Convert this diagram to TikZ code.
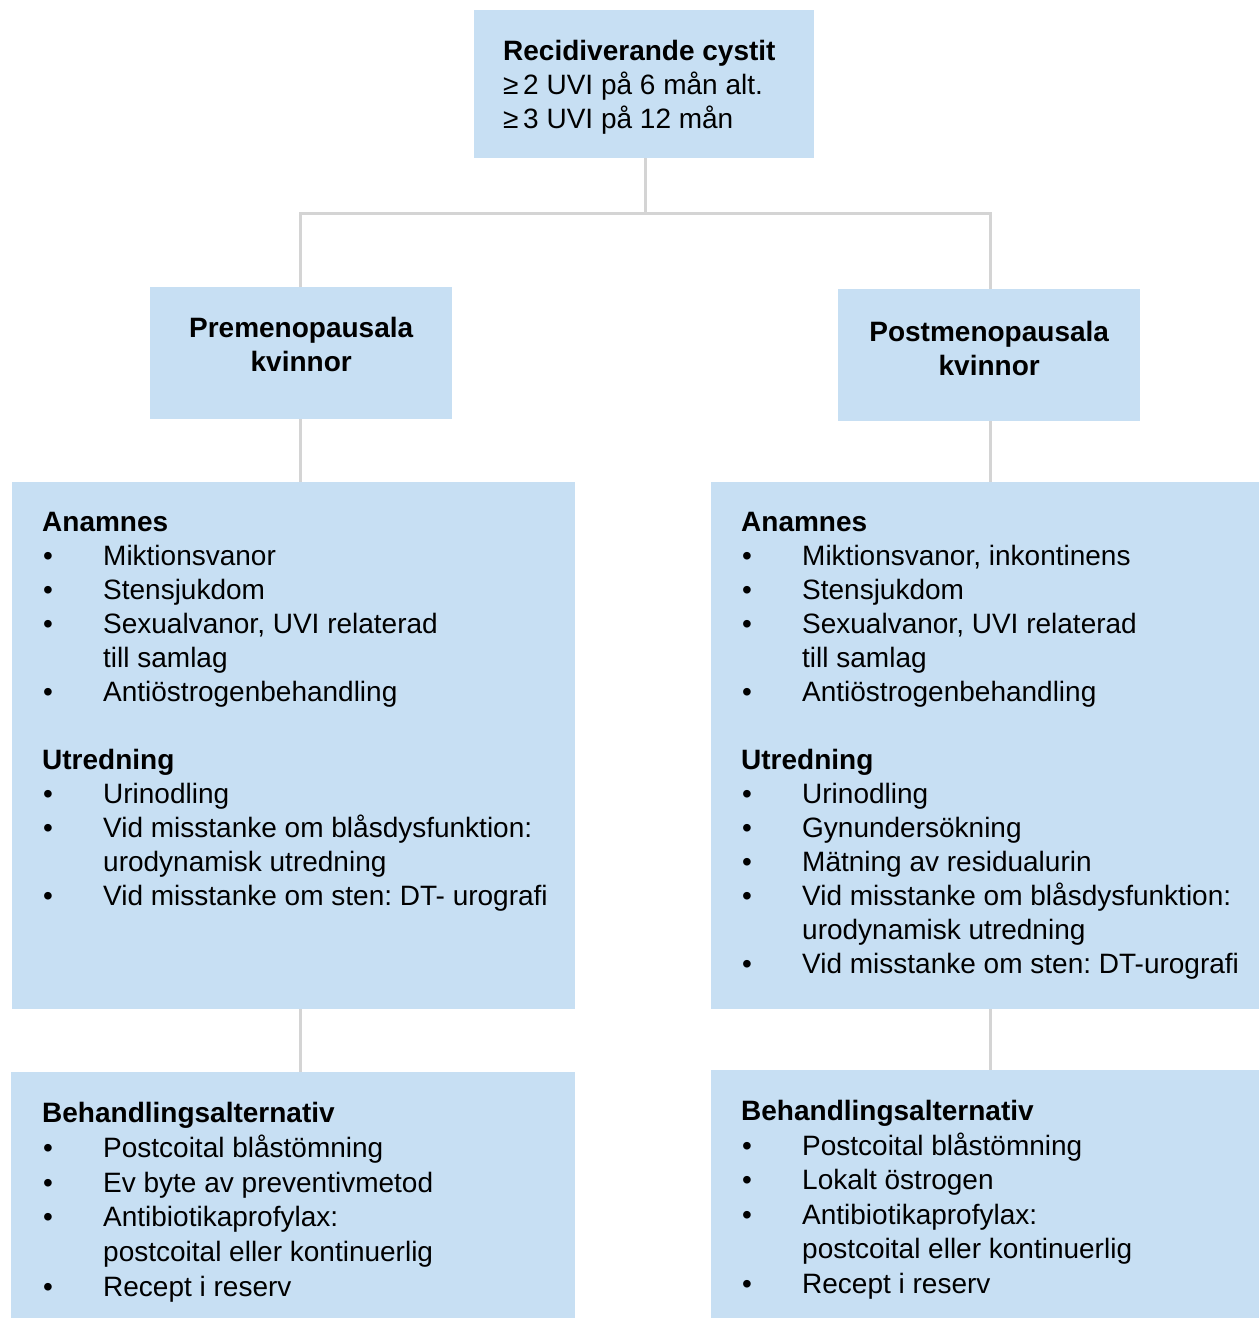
\documentclass[tikz,border=0pt]{standalone}
\usepackage{fontspec}
\setmainfont{Liberation Sans}
\frenchspacing
\definecolor{boxblue}{RGB}{199,223,243}
\definecolor{linegray}{RGB}{212,212,212}
\newcommand{\panel}[5]{\hspace*{#3pt}\parbox[t][#2pt][t]{\dimexpr#1pt-#3pt\relax}{\raggedright\frenchspacing\fontsize{28}{34}\selectfont\vspace*{#4pt}#5}}
\newcommand{\itm}[1]{\makebox[61pt][l]{\hspace{1pt}\textbullet}#1}
\newcommand{\cnt}[1]{\hspace*{61pt}#1}
\begin{document}
\begin{tikzpicture}[x=1pt, y=-1pt, box/.style={fill=boxblue, inner sep=0pt, anchor=north west}, link/.style={draw=linegray, line width=3pt}]
        \useasboundingbox (0,0) rectangle (1259,1318);
        \node [box] (rec) at (474,10) {\panel{340}{148}{29}{30}{\textbf{Recidiverande cystit}\\ ≥\,2 UVI på 6 mån alt.\\ ≥\,3 UVI på 12 mån}};
        \node [box] (pre) at (150,287) {\panel{302}{132}{0}{30}{\centering\bfseries Premenopausala\\ kvinnor}};
        \node [box] (post) at (838,289) {\panel{302}{132}{0}{32}{\centering\bfseries Postmenopausala\\ kvinnor}};
        \node [box] (anamL) at (12,482) {\panel{563}{527}{30}{30}{\textbf{Anamnes}\\
          \itm{Miktionsvanor}\\
          \itm{Stensjukdom}\\
          \itm{Sexualvanor, UVI relaterad}\\
          \cnt{till samlag}\\
          \itm{Antiöstrogenbehandling}\\[34pt]
          \textbf{Utredning}\\
          \itm{Urinodling}\\
          \itm{Vid misstanke om blåsdysfunktion:}\\
          \cnt{urodynamisk utredning}\\
          \itm{Vid misstanke om sten: DT- urografi}}};
        \node [box] (anamR) at (711,482) {\panel{548}{527}{30}{30}{\textbf{Anamnes}\\
          \itm{Miktionsvanor, inkontinens}\\
          \itm{Stensjukdom}\\
          \itm{Sexualvanor, UVI relaterad}\\
          \cnt{till samlag}\\
          \itm{Antiöstrogenbehandling}\\[34pt]
          \textbf{Utredning}\\
          \itm{Urinodling}\\
          \itm{Gynundersökning}\\
          \itm{Mätning av residualurin}\\
          \itm{Vid misstanke om blåsdysfunktion:}\\
          \cnt{urodynamisk utredning}\\
          \itm{Vid misstanke om sten: DT-urografi}}};
        \node [box] (behL) at (11,1072) {\panel{564}{246}{31}{30}{\textbf{Behandlingsalternativ}\\[0.5pt]
          \itm{Postcoital blåstömning}\\[1pt]
          \itm{Ev byte av preventivmetod}\\[0.5pt]
          \itm{Antibiotikaprofylax:}\\[0.5pt]
          \cnt{postcoital eller kontinuerlig}\\[1pt]
          \itm{Recept i reserv}}};
        \node [box] (behR) at (711,1070) {\panel{548}{248}{30}{30}{\textbf{Behandlingsalternativ}\\[0.5pt]
          \itm{Postcoital blåstömning}\\[0.5pt]
          \itm{Lokalt östrogen}\\[0.5pt]
          \itm{Antibiotikaprofylax:}\\[0.5pt]
          \cnt{postcoital eller kontinuerlig}\\[1pt]
          \itm{Recept i reserv}}};
        \coordinate (split) at (645,213);
        \draw [link] (split |- rec.south) -- (split);
        \draw [link] (300,0 |- pre.north) |- (split) -| (990,0 |- post.north);
        \draw [link] (300,0 |- pre.south) -- (300,0 |- anamL.north);
        \draw [link] (990,0 |- post.south) -- (990,0 |- anamR.north);
        \draw [link] (300,0 |- anamL.south) -- (300,0 |- behL.north);
        \draw [link] (990,0 |- anamR.south) -- (990,0 |- behR.north);
      \end{tikzpicture}
\end{document}
